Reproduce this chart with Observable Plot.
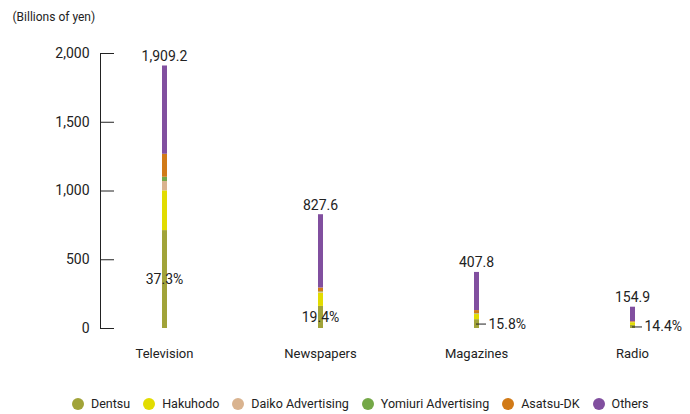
<!DOCTYPE html>
<html>
<head>
<meta charset="utf-8">
<script src="https://cdn.jsdelivr.net/npm/d3@7"></script>
<script src="https://cdn.jsdelivr.net/npm/@observablehq/plot@0.6"></script>
<style>
  html, body { margin: 0; padding: 0; background: #fff; }
  body { width: 690px; height: 414px; overflow: hidden; font-family: Roboto, sans-serif; }
  #legend { margin-left: 72px; margin-top: 17px; }
  #legend > div { font-family: Roboto, sans-serif; font-size: 12.5px; color: #222; }
  #legend svg rect { rx: 6px; ry: 6px; }
  #legend [class$="-swatch"] { margin-right: 13px !important; }
  #legend [class$="-swatch"] > svg { margin-right: 7px !important; }
</style>
</head>
<body>
<div id="chart"></div>
<div id="legend"></div>
<script>
// ---- data ----
const categories = ["Television", "Newspapers", "Magazines", "Radio"];
const companies = ["Dentsu", "Hakuhodo", "Daiko Advertising", "Yomiuri Advertising", "Asatsu-DK", "Others"];
const colors = ["#a1a339", "#e2dc00", "#d9b38f", "#74a847", "#d17a17", "#814f9f"];
const totals = [1909.2, 827.6, 407.8, 154.9];
const dentsuShare = [37.3, 19.4, 15.8, 14.4];
const dentsu = [712.1, 160.6, 64.4, 22.3];
const hakuhodo = [289, 97, 37, 20];
const daiko = [68, 5, 4, 2];
const yomiuri = [31, 4, 3, 1];
const asatsu = [167, 28, 22, 5];
const yTicks = [0, 500, 1000, 1500, 2000];

// build long table
const series = [dentsu, hakuhodo, daiko, yomiuri, asatsu];
const rows = [];
categories.forEach((c, i) => {
  let sum = 0;
  series.forEach((s, k) => { rows.push({category: c, company: companies[k], value: s[i]}); sum += s[i]; });
  rows.push({category: c, company: "Others", value: +(totals[i] - sum).toFixed(1)});
});
const cats = categories.map((c, i) => ({
  category: c, total: totals[i], share: dentsuShare[i], mid: dentsu[i] / 2, outside: dentsu[i] < 100
}));

const font = `Roboto, sans-serif`;
const W = 690, ML = 100, MR = 0;

const chart = Plot.plot({
  width: W,
  height: 370,
  marginTop: 53,
  marginBottom: 42,
  marginLeft: ML,
  marginRight: MR,
  style: {fontFamily: font, fontSize: "14px", color: "#222", background: "#fff"},
  x: {type: "point", domain: categories, padding: 0, insetLeft: 63.5, insetRight: 58.5},
  y: {domain: [0, 2000]},
  color: {domain: companies, range: colors},
  marks: [
    Plot.frame({anchor: "left", stroke: "#222"}),
    Plot.ruleY(yTicks, {y: d => d, insetRight: W - ML - MR - 14, stroke: "#222"}),
    Plot.axisY({ticks: yTicks, tickSize: 0, tickPadding: 11, tickFormat: d3.format(","), label: null, fontSize: 14}),
    Plot.axisX({tickSize: 0, tickPadding: 20, label: null, fontSize: 13}),
    Plot.text(["(Billions of yen)"], {frameAnchor: "top-left", dx: -88, dy: -36, textAnchor: "start", lineAnchor: "middle", fontSize: 12}),
    Plot.ruleX(rows, Plot.stackY({x: "category", y: "value", stroke: "company", strokeWidth: 5, order: companies})),
    Plot.text(cats, {x: "category", y: "total", text: d => d3.format(",.1f")(d.total), lineAnchor: "bottom", dy: -5, fontSize: 14}),
    Plot.text(cats.filter(d => !d.outside), {x: "category", y: "mid", text: d => d.share.toFixed(1) + "%", fontSize: 14}),
    Plot.ruleY(cats.filter(d => d.outside), {x1: "category", x2: "category", y: "mid", insetRight: -10, stroke: "#222"}),
    Plot.text(cats.filter(d => d.outside), {x: "category", y: "mid", text: d => d.share.toFixed(1) + "%", textAnchor: "start", dx: 12, fontSize: 14})
  ]
});
document.getElementById("chart").appendChild(chart);

const legend = Plot.legend({color: {domain: companies, range: colors}, swatchSize: 12, swatchWidth: 12, swatchHeight: 12, marginLeft: 0});
document.getElementById("legend").appendChild(legend);
</script>
</body>
</html>
